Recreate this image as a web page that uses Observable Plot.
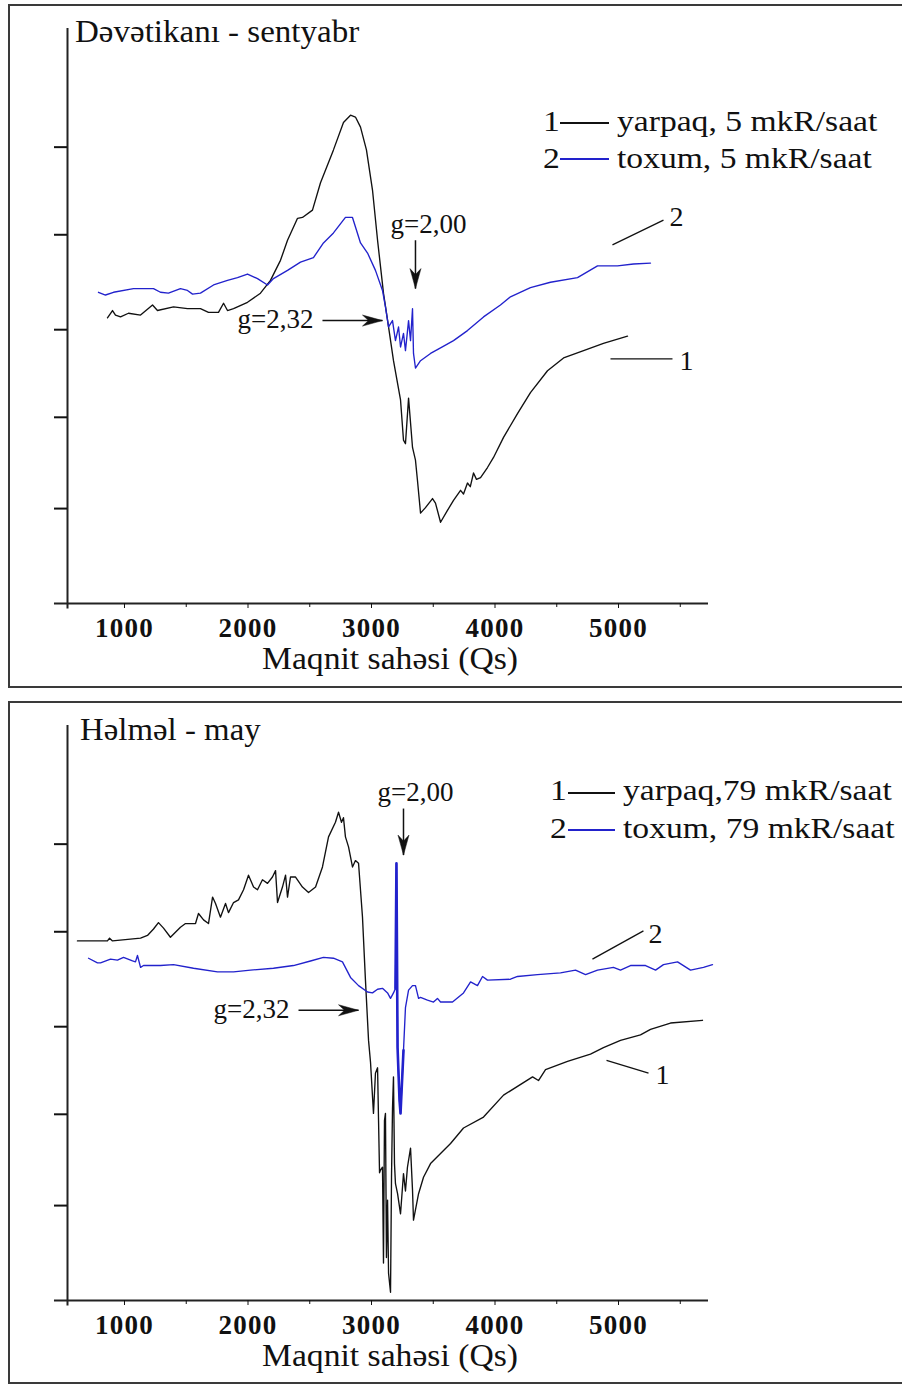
<!DOCTYPE html>
<html><head><meta charset="utf-8">
<script src="https://cdn.jsdelivr.net/npm/d3@7"></script>
<script src="https://cdn.jsdelivr.net/npm/@observablehq/plot@0.6"></script>
<style>
html,body{margin:0;padding:0;background:#fff;}
body{width:902px;height:1385px;position:relative;overflow:hidden;font-family:'Liberation Serif','Times New Roman',serif;color:#111;}
.frame{position:absolute;border:2px solid #3a3a3a;box-sizing:border-box;}
.plot{position:absolute;left:0;}
.t{position:absolute;white-space:nowrap;line-height:1;}
.sw{position:absolute;height:0;}
svg [aria-label="x-axis tick label"] text{letter-spacing:1.3px;}
</style></head><body>
<div class="frame" style="left:8px;top:4px;width:930px;height:684px"></div>
<div class="frame" style="left:8px;top:701px;width:930px;height:683px"></div>
<div class="plot" id="p1" style="top:0"></div>
<div class="plot" id="p2" style="top:697px"></div>
<script>
// ---- data ----
const fieldTicks = [1000, 2000, 3000, 4000, 5000];
const minorTicks = [1500, 2500, 3500, 4500, 5500];
const intensityTicks = [1.04, 2.04, 3.0, 4.04, 5.0];

// Dəvətikanı - sentyabr : [field (Qs), signal (arb. units)]
const sepLeaf = [[862,3.13],[903,3.21],[927,3.16],[968,3.14],[1032,3.18],[1130,3.16],[1227,3.27],[1267,3.21],[1397,3.25],[1510,3.23],[1615,3.23],[1680,3.19],[1761,3.19],[1802,3.29],[1834,3.21],[1883,3.23],[1996,3.30],[2101,3.40],[2182,3.54],[2263,3.76],[2320,3.98],[2401,4.22],[2441,4.23],[2522,4.31],[2587,4.61],[2692,4.97],[2773,5.27],[2830,5.35],[2870,5.33],[2911,5.22],[2959,4.97],[3008,4.53],[3049,3.98],[3097,3.40],[3138,3.03],[3178,2.66],[3235,2.23],[3259,1.79],[3275,1.75],[3300,2.25],[3332,1.71],[3356,1.57],[3372,1.35],[3397,0.99],[3437,1.05],[3494,1.15],[3518,1.10],[3559,0.89],[3615,1.02],[3664,1.13],[3721,1.24],[3745,1.20],[3777,1.32],[3800,1.28],[3826,1.43],[3850,1.36],[3883,1.38],[3939,1.49],[3988,1.60],[4069,1.82],[4182,2.08],[4287,2.31],[4425,2.55],[4555,2.69],[4717,2.77],[4878,2.85],[5073,2.93]];
const sepSeed = [[789,3.41],[846,3.38],[911,3.41],[1073,3.45],[1235,3.45],[1291,3.41],[1356,3.40],[1453,3.45],[1510,3.43],[1551,3.39],[1615,3.40],[1721,3.49],[1834,3.54],[1915,3.57],[1996,3.61],[2077,3.56],[2158,3.49],[2206,3.56],[2320,3.65],[2425,3.74],[2530,3.79],[2611,3.95],[2692,4.06],[2789,4.23],[2846,4.23],[2911,3.95],[2968,3.84],[3032,3.65],[3089,3.43],[3113,3.25],[3138,3.03],[3170,3.10],[3194,2.88],[3219,3.03],[3235,2.81],[3259,2.96],[3275,2.77],[3300,3.10],[3316,2.88],[3332,3.23],[3340,2.74],[3356,2.58],[3397,2.66],[3478,2.74],[3559,2.80],[3664,2.88],[3777,2.99],[3907,3.14],[4044,3.27],[4125,3.36],[4287,3.46],[4449,3.52],[4668,3.57],[4830,3.70],[4992,3.70],[5121,3.72],[5259,3.73]];

// Həlməl - may
const mayLeaf = [[619,3.94],[862,3.94],[879,3.97],[903,3.94],[1130,3.97],[1186,4.00],[1235,4.07],[1275,4.14],[1316,4.08],[1372,3.98],[1453,4.09],[1494,4.13],[1575,4.13],[1599,4.24],[1640,4.17],[1680,4.13],[1713,4.42],[1737,4.35],[1777,4.20],[1818,4.35],[1842,4.25],[1883,4.36],[1923,4.39],[1964,4.50],[2004,4.66],[2045,4.53],[2077,4.50],[2117,4.61],[2158,4.57],[2198,4.64],[2223,4.71],[2239,4.36],[2279,4.53],[2304,4.66],[2320,4.42],[2344,4.64],[2385,4.64],[2441,4.53],[2490,4.47],[2547,4.53],[2603,4.75],[2652,5.08],[2708,5.24],[2733,5.35],[2757,5.24],[2773,5.29],[2789,5.08],[2814,4.97],[2846,4.75],[2870,4.82],[2895,4.79],[2927,4.20],[2951,3.51],[2976,2.85],[2992,2.61],[3016,2.05],[3032,2.49],[3049,2.55],[3057,1.97],[3065,1.40],[3073,1.43],[3089,1.46],[3097,0.41],[3105,1.97],[3113,2.05],[3121,0.47],[3130,1.10],[3138,0.30],[3154,0.09],[3162,1.35],[3170,2.10],[3178,2.45],[3186,1.50],[3194,1.28],[3211,1.17],[3235,0.95],[3259,1.39],[3275,1.20],[3291,1.46],[3316,1.67],[3332,1.21],[3340,0.88],[3381,1.17],[3421,1.35],[3478,1.50],[3559,1.61],[3640,1.72],[3745,1.89],[3907,2.01],[4069,2.25],[4304,2.45],[4352,2.41],[4409,2.53],[4587,2.62],[4773,2.70],[4878,2.77],[5016,2.85],[5178,2.91],[5259,2.97],[5421,3.04],[5680,3.07]];
const maySeed = [[709,3.75],[781,3.70],[806,3.70],[887,3.74],[943,3.73],[992,3.76],[1065,3.72],[1089,3.71],[1105,3.78],[1130,3.65],[1154,3.67],[1291,3.67],[1397,3.68],[1559,3.64],[1753,3.60],[1883,3.60],[2020,3.62],[2206,3.64],[2368,3.67],[2506,3.72],[2611,3.76],[2692,3.75],[2765,3.71],[2830,3.54],[2895,3.45],[2968,3.38],[3008,3.37],[3049,3.41],[3089,3.42],[3130,3.37],[3154,3.31],[3178,3.37],[3194,3.42],[3202,4.79],[3211,2.77],[3227,2.19],[3235,2.05],[3259,2.74],[3275,3.21],[3300,3.40],[3332,3.45],[3356,3.45],[3381,3.31],[3397,3.32],[3453,3.29],[3502,3.27],[3534,3.31],[3559,3.27],[3656,3.27],[3745,3.37],[3802,3.49],[3858,3.45],[3899,3.55],[3939,3.51],[4125,3.52],[4182,3.55],[4344,3.57],[4530,3.59],[4652,3.62],[4733,3.57],[4830,3.62],[4959,3.65],[5016,3.62],[5097,3.67],[5219,3.67],[5300,3.62],[5364,3.68],[5478,3.71],[5583,3.62],[5688,3.65],[5761,3.68]];

// annotations (field, signal)
const sepNotes = {
  g200: {text: "g=2,00", x: 3154, y: 4.06, ax: 3356, ay1: 3.98, ay2: 3.45},
  g232: {text: "g=2,32", x: 1915, y: 3.02, ax1: 2603, ax2: 3089, ay: 3.10},
  lab2: {x1: 4951, y1: 3.93, x2: 5364, y2: 4.20, tx: 5470, ty: 4.23},
  lab1: {x1: 4935, y1: 2.68, x2: 5437, y2: 2.68, tx: 5551, ty: 2.66}
};
const mayNotes = {
  g200: {text: "g=2,00", x: 3049, y: 5.47, ax: 3259, ay1: 5.39, ay2: 4.88},
  g232: {text: "g=2,32", x: 1721, y: 3.09, ax1: 2409, ax2: 2895, ay: 3.18},
  lab2: {x1: 4789, y1: 3.74, x2: 5202, y2: 4.05, tx: 5300, ty: 4.02},
  lab1: {x1: 4903, y1: 2.63, x2: 5243, y2: 2.49, tx: 5356, ty: 2.47}
};

// ---- drawing ----
const BLUE = "#2222cc", BLACK = "#111";
const X0 = 538.5, X1 = 5728.6, Y1 = 6.3;
const arrowHead = {draw(ctx) { ctx.moveTo(0, 0); ctx.lineTo(-5.5, -20); ctx.lineTo(0, -14); ctx.lineTo(5.5, -20); ctx.closePath(); }};

function chart(leaf, seed, n, spike) {
  const fx = d => d[0], fy = d => d[1];
  return Plot.plot({
    width: 902, height: 690,
    marginTop: 28, marginRight: 194, marginBottom: 87, marginLeft: 67,
    x: {domain: [X0, X1]},
    y: {domain: [0, Y1]},
    style: {background: "transparent", fontFamily: "'Liberation Serif','Times New Roman',serif", color: "#111", overflow: "visible"},
    marks: [
      Plot.ruleY([0], {x1: 433, x2: X1, stroke: "#222", strokeWidth: 2}),
      Plot.ruleX([X0], {y1: -0.06, y2: Y1, stroke: "#222", strokeWidth: 2}),
      Plot.axisY(intensityTicks, {tickSize: 13, tickFormat: () => "", strokeWidth: 2, label: null}),
      Plot.axisX(fieldTicks, {tickSize: 5, tickPadding: 9, tickFormat: "d", fontSize: 27, fontWeight: "bold", label: null}),
      Plot.axisX(minorTicks, {tickSize: 4, tickFormat: () => "", label: null}),
      Plot.line(leaf, {x: fx, y: fy, stroke: BLACK, strokeWidth: 1.35}),
      Plot.line(seed, {x: fx, y: fy, stroke: BLUE, strokeWidth: 1.35}),
      spike ? Plot.line(seed.filter(d => d[0] >= spike[0] && d[0] <= spike[1]), {x: fx, y: fy, stroke: BLUE, strokeWidth: 2.6}) : null,
      // g=2,00
      Plot.text([n.g200], {x: "x", y: "y", text: "text", textAnchor: "start", lineAnchor: "bottom", fontSize: 27, fill: "#111"}),
      Plot.link([n.g200], {x1: "ax", x2: "ax", y1: "ay1", y2: "ay2", stroke: "#111", strokeWidth: 1.5}),
      Plot.dot([n.g200], {x: "ax", y: "ay2", symbol: arrowHead, fill: "#111", stroke: "#111", strokeWidth: 0.5}),
      // g=2,32
      Plot.text([n.g232], {x: "x", y: "y", text: "text", textAnchor: "start", lineAnchor: "bottom", fontSize: 27, fill: "#111"}),
      Plot.link([n.g232], {x1: "ax1", x2: "ax2", y1: "ay", y2: "ay", stroke: "#111", strokeWidth: 1.5}),
      Plot.dot([n.g232], {x: "ax2", y: "ay", symbol: arrowHead, rotate: -90, fill: "#111", stroke: "#111", strokeWidth: 0.5}),
      // curve labels
      Plot.link([n.lab2, n.lab1], {x1: "x1", y1: "y1", x2: "x2", y2: "y2", stroke: "#111", strokeWidth: 1.3}),
      Plot.text([n.lab2], {x: "tx", y: "ty", text: () => "2", fontSize: 28, fill: "#111"}),
      Plot.text([n.lab1], {x: "tx", y: "ty", text: () => "1", fontSize: 28, fill: "#111"})
    ]
  });
}

document.getElementById("p1").appendChild(chart(sepLeaf, sepSeed, sepNotes, null));
document.getElementById("p2").appendChild(chart(mayLeaf, maySeed, mayNotes, [3194, 3259]));

// ---- titles, legends, axis labels ----
function addText(str, x, baseline, size, stretch, center) {
  const d = document.createElement("div");
  d.className = "t";
  d.textContent = str;
  d.style.left = x + "px";
  d.style.top = (baseline - 0.8375 * size) + "px";
  d.style.fontSize = size + "px";
  if (center) {
    d.style.transform = "translateX(-50%) scaleX(" + stretch + ")";
  } else {
    d.style.transformOrigin = "0 0";
    d.style.transform = "scaleX(" + stretch + ")";
  }
  document.body.appendChild(d);
}
function addSwatch(x1, x2, y, color) {
  const d = document.createElement("div");
  d.className = "sw";
  d.style.left = x1 + "px";
  d.style.width = (x2 - x1) + "px";
  d.style.top = (y - 1) + "px";
  d.style.borderTop = "2px solid " + color;
  document.body.appendChild(d);
}
const titles = ["Dəvətikanı - sentyabr", "Həlməl - may"];
const legendTop = ["yarpaq, 5 mkR/saat", "toxum, 5 mkR/saat"];
const legendBottom = ["yarpaq,79 mkR/saat", "toxum, 79 mkR/saat"];
const xLabel = "Maqnit sahəsi (Qs)";

addText(titles[0], 75, 42, 31, 1.065);
addText(titles[1], 80, 740, 31, 1.06);

addText("1", 543, 131, 30, 1.12); addSwatch(560, 609, 123, BLACK); addText(legendTop[0], 617, 131, 30, 1.12);
addText("2", 543, 168, 30, 1.12); addSwatch(560, 609, 159, BLUE); addText(legendTop[1], 617, 168, 30, 1.12);

addText("1", 550, 800, 30, 1.12); addSwatch(568, 615, 793, BLACK); addText(legendBottom[0], 623, 800, 30, 1.12);
addText("2", 550, 838, 30, 1.12); addSwatch(568, 615, 830, BLUE); addText(legendBottom[1], 623, 838, 30, 1.12);

addText(xLabel, 390, 669, 31, 1.085, true);
addText(xLabel, 390, 1366, 31, 1.085, true);
</script>
</body></html>
